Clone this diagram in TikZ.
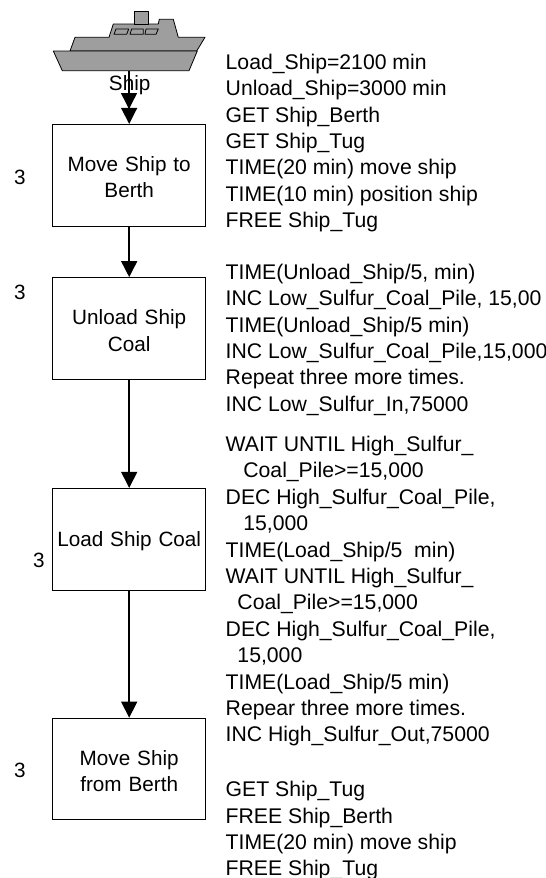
\documentclass[tikz,border=0pt]{standalone}
\usepackage{fontspec}
\setmainfont{Liberation Sans}
\usetikzlibrary{arrows.meta}
\tikzset{
  x=1pt,y=-1pt,
  stepbox/.style={draw=black,line width=0.9pt,fill=white,minimum width=153pt,minimum height=101.7pt,align=center,inner sep=0pt,font=\fontsize{20.7}{26.5}\selectfont,text width=150pt,execute at begin node={\rule{0pt}{19pt}}},
  flow/.style={draw=black,line width=1.5pt,-{Triangle[length=16pt,width=16pt]}},
  hull/.style={draw=black,line width=0.8pt,fill=black!38,line join=round},
  note/.style={anchor=north west,align=left,inner sep=0pt,font=\fontsize{21.2}{26.4}\selectfont},
  count/.style={inner sep=0pt,font=\fontsize{20.7}{24}\selectfont},
  caption/.style={inner sep=0pt,font=\fontsize{20.7}{24}\selectfont}
}
\begin{document}
\begin{tikzpicture}
\useasboundingbox (0,0) rectangle (546,878);
\clip (0,0) rectangle (546,878);
\coordinate (shipkeel) at (129,71);
\coordinate (midhead) at (129,109);
\node[stepbox] (b1) at (129.2,175.2) {Move Ship to\\Berth};
\node[stepbox] (b2) at (129.2,328.4) {Unload Ship\\Coal};
\node[stepbox] (b3) at (129.2,539.2) {Load Ship Coal};
\node[stepbox] (b4) at (129.2,769) {Move Ship\\from Berth};
\draw[flow] (shipkeel) -- (midhead);
\draw[flow] (shipkeel) -- (b1.north);
\draw[flow] (b1) -- (b2);
\draw[flow] (b2) -- (b3);
\draw[flow] (b3) -- (b4);
\draw[hull] (70,51) -- (75,37.3) -- (109,37.3) -- (113.3,24) -- (158.3,24) -- (159.3,19.3) -- (173.3,19.3) -- (178.3,37.3) -- (205,37.3) -- (196.7,51) -- cycle;
\draw[hull] (134.3,11.7) rectangle (148.7,24);
\draw[hull] (116,29) -- (128.7,29) -- (126.7,34.3) -- (114,34.3) -- cycle;
\draw[hull] (131.7,29) -- (143.3,29) -- (143.3,34.3) -- (130,34.3) -- cycle;
\draw[hull] (146,29) -- (158.3,29) -- (156,34.3) -- (145,34.3) -- cycle;
\draw[hull] (53.3,51) -- (197.3,51) -- (189,70.7) -- (62.3,70.7) -- cycle;
\node[caption] (cap) at (129.7,85) {Ship};
\node[count] (n1) at (20,177) {3};
\node[count] (n2) at (20,292) {3};
\node[count] (n3) at (39,560) {3};
\node[count] (n4) at (20,770) {3};
\node[note] (t1) at (225.5,53.8) {Load\_Ship=2100 min\\Unload\_Ship=3000 min\\GET Ship\_Berth\\GET Ship\_Tug\\TIME(20 min) move ship\\TIME(10 min) position ship\\FREE Ship\_Tug};
\node[note] (t2) at (225.5,263.8) {TIME(Unload\_Ship/5, min)\\INC Low\_Sulfur\_Coal\_Pile, 15,00\\TIME(Unload\_Ship/5 min)\\INC Low\_Sulfur\_Coal\_Pile,15,000\\Repeat three more times.\\INC Low\_Sulfur\_In,75000};
\node[note] (t3) at (225.5,436) {WAIT UNTIL High\_Sulfur\_\\\ \ \ Coal\_Pile>=15,000\\DEC High\_Sulfur\_Coal\_Pile,\\\ \ \ 15,000\\TIME(Load\_Ship/5\ \ min)\\WAIT UNTIL High\_Sulfur\_\\\ \ Coal\_Pile>=15,000\\DEC High\_Sulfur\_Coal\_Pile,\\\ \ 15,000\\TIME(Load\_Ship/5 min)\\Repear three more times.\\INC High\_Sulfur\_Out,75000};
\node[note] (t4) at (225.5,781.2) {GET Ship\_Tug\\FREE Ship\_Berth\\TIME(20 min) move ship\\FREE Ship\_Tug};
\end{tikzpicture}
\end{document}
